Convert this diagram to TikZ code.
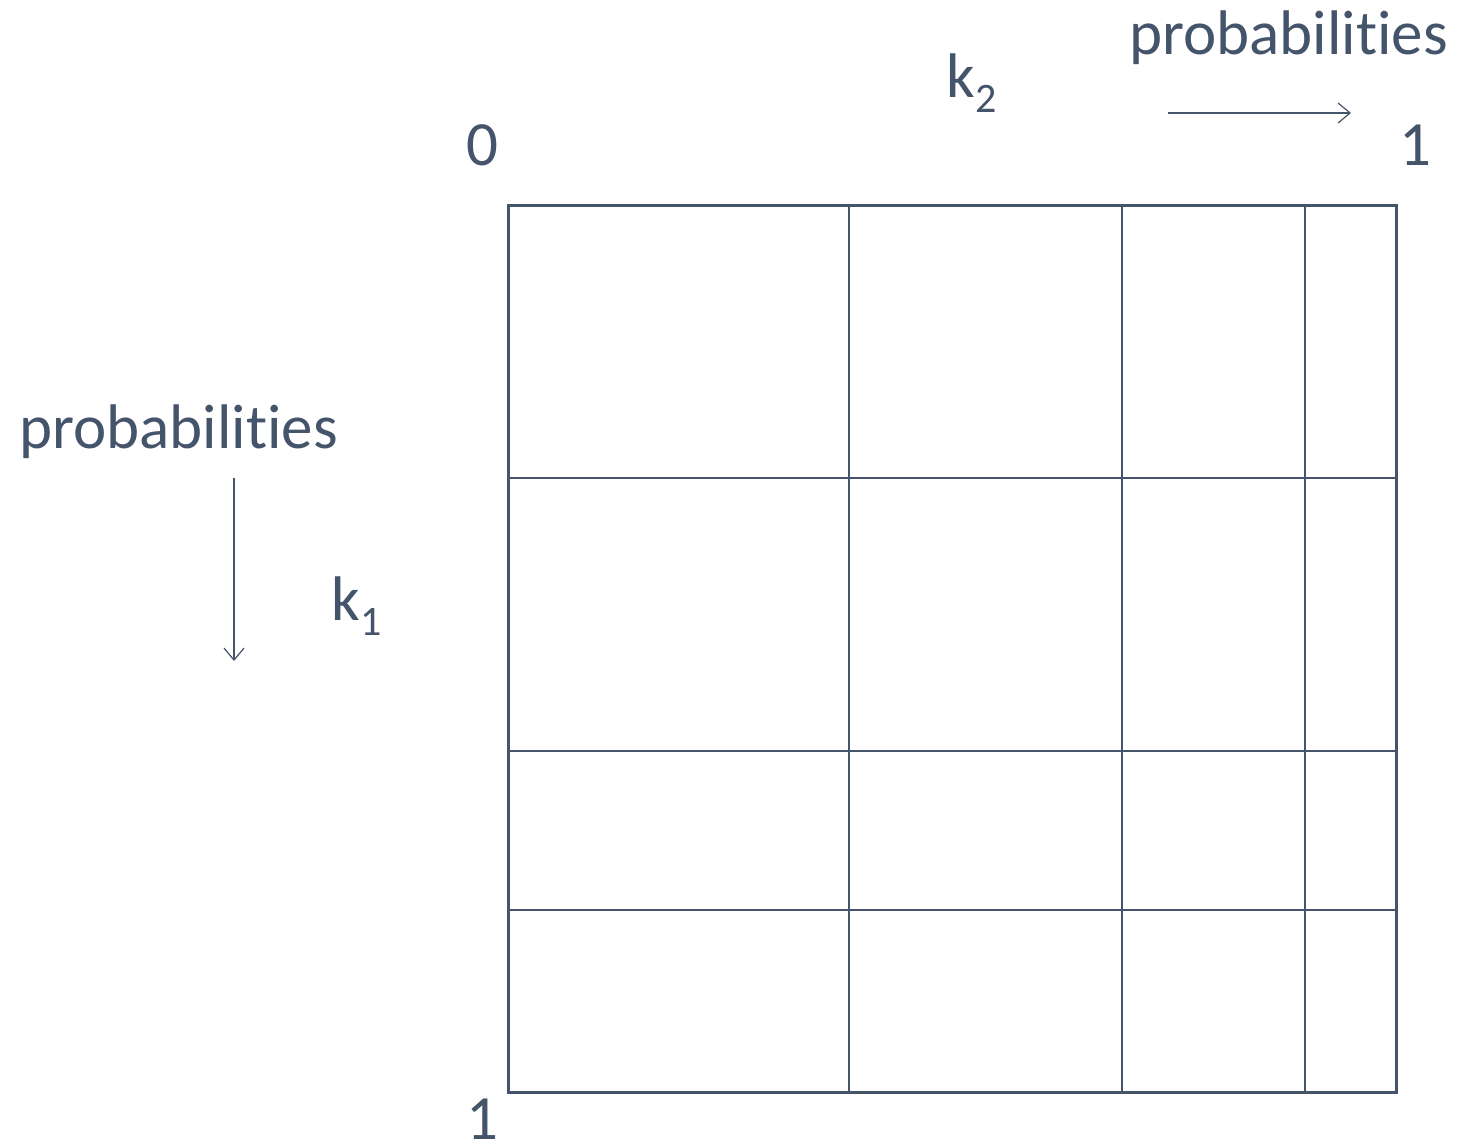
\documentclass[tikz,border=0pt]{standalone}
\usepackage{fontspec}
\setmainfont{Carlito}[Ligatures={NoCommon}]
\usetikzlibrary{arrows.meta}
\definecolor{slate}{HTML}{44546A}
\tikzset{
  lbl/.style={anchor=base west, inner sep=0pt, text=slate, font=\fontsize{31.5}{34}\selectfont},
  big/.style={anchor=base west, inner sep=0pt, text=slate, font=\fontsize{31.5}{34}\selectfont},
  outer/.style={draw=slate, line width=1.5pt},
  inner/.style={draw=slate, line width=0.7pt},
  arr/.style={draw=slate, line width=0.6pt, -{Straight Barb[length=6pt,width=10pt]}}
}
\newcommand{\subdig}[1]{\raisebox{-0.24em}{\fontsize{21}{22}\selectfont #1}}
\begin{document}
\begin{tikzpicture}[x=0.5pt,y=-0.5pt]
\useasboundingbox (0,0) rectangle (1458,1147);
% grid
\draw[inner] (849,205) -- (849,1092);
\draw[inner] (1122,205) -- (1122,1092);
\draw[inner] (1305,205) -- (1305,1092);
\draw[inner] (508,478) -- (1396,478);
\draw[inner] (508,751) -- (1396,751);
\draw[inner] (508,910) -- (1396,910);
\draw[outer] (508,205) rectangle (1396,1092);
% labels
\node[lbl] (ptop) at (1129,54) {probabilities};
\node[lbl] (pleft) at (19,448) {probabilities};
\node[big] (k2) at (946,97) {k\subdig{2}};
\node[big] (k1) at (331,620) {k\subdig{1}};
\node[big] (zero) at (466,165) {0};
\node[big] (onetop) at (1399,165) {1};
\node[big] (onebot) at (466,1139) {1};
% arrows
\coordinate (ha) at (1168,113);
\coordinate (hb) at (1351,113);
\coordinate (va) at (234,478);
\coordinate (vb) at (234,661);
\draw[arr] (ha) -- (hb);
\draw[arr] (va) -- (vb);
\end{tikzpicture}
\end{document}
